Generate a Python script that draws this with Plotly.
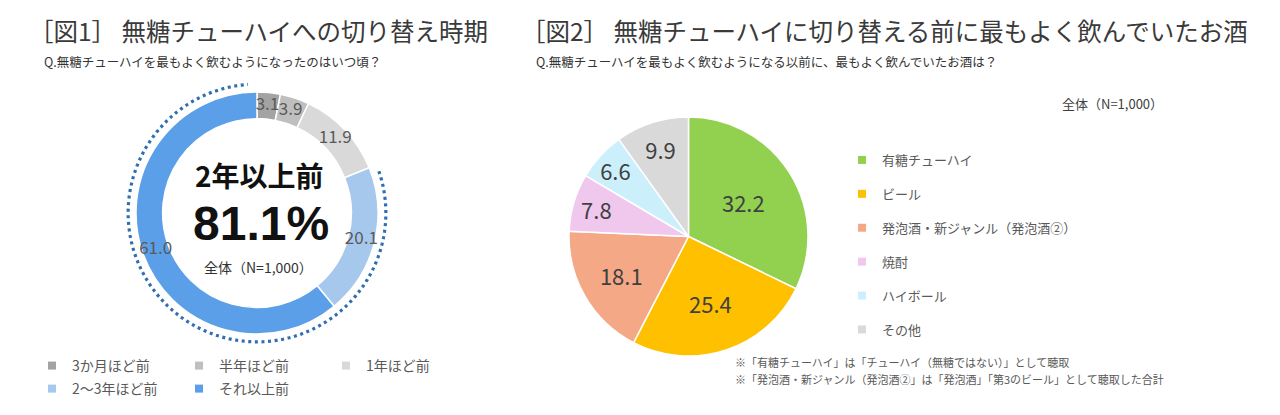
import plotly.graph_objects as go

W, H = 1280, 415

# ---------------- data ----------------
timing_labels = ["3か月ほど前", "半年ほど前", "1年ほど前", "2～3年ほど前", "それ以上前"]
timing_values = [3.1, 3.9, 11.9, 20.1, 61.0]
timing_colors = ["#a3a3a3", "#bfbfbf", "#d9d9d9", "#a6c8ed", "#5b9fe8"]
highlight_from = 3          # index of first slice counted in "2年以上前"
highlight_label = "2年以上前"
highlight_total = "81.1%"
sample_label = "全体（N=1,000）"

drink_labels = ["有糖チューハイ", "ビール", "発泡酒・新ジャンル（発泡酒②）", "焼酎", "ハイボール", "その他"]
drink_values = [32.2, 25.4, 18.1, 7.8, 6.6, 9.9]
drink_colors = ["#92d050", "#ffc000", "#f4a886", "#f0c8ee", "#ccf0fb", "#d9d9d9"]

title1 = "［図1］ 無糖チューハイへの切り替え時期"
sub1 = "Q.無糖チューハイを最もよく飲むようになったのはいつ頃？"
title2 = "［図2］ 無糖チューハイに切り替える前に最もよく飲んでいたお酒"
sub2 = "Q.無糖チューハイを最もよく飲むようになる以前に、最もよく飲んでいたお酒は？"
notes2 = ["※「有糖チューハイ」は「チューハイ（無糖ではない）」として聴取",
          "※「発泡酒・新ジャンル（発泡酒②」は「発泡酒」「第3のビール」として聴取した合計"]

FONT = "Noto Sans CJK JP"
HOLE = 0.78
R_MAX = 1.1


def px(x):
    return x / W


def py(y):
    return 1 - y / H


# donut centre (257, 213), outer radius 121 px -> polar radius 121*R_MAX
cx, cy, rad = 257, 213, 121 * R_MAX
dom1 = dict(x=[px(cx - rad), px(cx + rad)], y=[py(cy + rad), py(cy - rad)])
dom2 = dict(x=[px(569), px(808)], y=[py(356), py(117)])

fig = go.Figure()

# ---- donut chart 1 (barpolar ring) ----
total = sum(timing_values)
cum = []
acc = 0.0
for v in timing_values:
    cum.append(acc)
    acc += v
mid_theta = [(c + v / 2) / total * 360 for c, v in zip(cum, timing_values)]
widths = [v / total * 360 for v in timing_values]

fig.add_trace(go.Barpolar(
    r=[1 - HOLE] * len(timing_values), base=HOLE, theta=mid_theta, width=widths,
    marker=dict(color=timing_colors, line=dict(color="white", width=1.5)),
    text=timing_labels, hovertemplate="%{text}<extra></extra>", showlegend=False,
))

arc_start = cum[highlight_from] / total * 360 + 3
arc_end = 360 - 4
n = 200
arc_theta = [arc_start + (arc_end - arc_start) * i / (n - 1) for i in range(n)]
fig.add_trace(go.Scatterpolar(
    r=[1.065] * n, theta=arc_theta, mode="lines",
    line=dict(color="#2f6eb0", width=3.2, dash="3px,3.6px"),
    showlegend=False, hoverinfo="skip",
))
fig.add_trace(go.Scatterpolar(
    r=[(1 + HOLE) / 2] * len(timing_values), theta=mid_theta, mode="text",
    text=[f"{v:.1f}" for v in timing_values], cliponaxis=False,
    textfont=dict(family=FONT, size=17, color="#595959"),
    showlegend=False, hoverinfo="skip",
))

# ---- pie chart 2 ----
fig.add_trace(go.Pie(
    labels=drink_labels, values=drink_values, sort=False,
    direction="clockwise", rotation=0, domain=dom2,
    marker=dict(colors=drink_colors, line=dict(color="white", width=1.5)),
    texttemplate="%{value:.1f}", textposition="inside",
    insidetextorientation="horizontal",
    textfont=dict(family=FONT, size=22, color="#404040"),
    showlegend=False, hoverinfo="label+value",
))

# ---- legend entries ----
for i, (lab, col) in enumerate(zip(timing_labels, timing_colors)):
    fig.add_trace(go.Scatterpolar(
        r=[None], theta=[None], mode="markers", name=lab,
        marker=dict(symbol="square", size=8, color=col),
        legend="legend" if i < 3 else "legend3", hoverinfo="skip",
    ))
for lab, col in zip(drink_labels, drink_colors):
    fig.add_trace(go.Scatterpolar(
        r=[None], theta=[None], mode="markers", name=lab,
        marker=dict(symbol="square", size=8, color=col),
        legend="legend2", legendgroup=lab, hoverinfo="skip",
    ))

ann = []


def add_text(x, y, text, size, color="#404040", bold=False, xanchor="left", family=FONT):
    t = f"<b>{text}</b>" if bold else text
    ann.append(dict(x=px(x), y=py(y), xref="paper", yref="paper", text=t,
                    showarrow=False, xanchor=xanchor, yanchor="middle",
                    font=dict(family=family, size=size, color=color)))


add_text(27, 30, title1, 24.5, "#3a3a3a")
add_text(42, 62, sub1, 12.5, "#333333")
add_text(519, 30, title2, 24.5, "#3a3a3a")
add_text(534, 62, sub2, 12.5, "#333333")
add_text(1060, 104, sample_label, 13, "#404040")
add_text(259, 175, highlight_label, 28, "#111111", bold=True, xanchor="center")
add_text(261, 223, highlight_total, 48, "#111111", bold=True, xanchor="center",
         family="Liberation Sans")
add_text(258, 267, sample_label, 14, "#333333", xanchor="center")
add_text(733, 362, notes2[0], 11, "#595959")
add_text(733, 379, notes2[1], 11, "#595959")

leg_common = dict(bgcolor="rgba(0,0,0,0)", borderwidth=0,
                  font=dict(family=FONT, size=14, color="#595959"),
                  itemclick=False, itemdoubleclick=False)

fig.update_layout(
    width=W, height=H,
    margin=dict(l=0, r=0, t=0, b=0),
    paper_bgcolor="white", plot_bgcolor="white",
    font=dict(family=FONT, color="#404040"),
    uniformtext=dict(minsize=22, mode="show"),
    polar=dict(
        domain=dom1, bgcolor="rgba(0,0,0,0)", bargap=0,
        angularaxis=dict(rotation=90, direction="clockwise", visible=False),
        radialaxis=dict(range=[0, R_MAX], visible=False),
    ),
    legend=dict(orientation="h", x=px(32), y=py(366), xanchor="left", yanchor="middle",
                entrywidth=102, entrywidthmode="pixels", **leg_common),
    legend3=dict(orientation="h", x=px(32), y=py(389), xanchor="left", yanchor="middle",
                 entrywidth=102, entrywidthmode="pixels", **leg_common),
    legend2=dict(orientation="v", x=px(842), y=py(245), xanchor="left", yanchor="middle",
                 tracegroupgap=14, bgcolor="rgba(0,0,0,0)", borderwidth=0,
                 font=dict(family=FONT, size=13, color="#595959"),
                 itemclick=False, itemdoubleclick=False),
    annotations=ann,
)

fig.write_html("out.html")
